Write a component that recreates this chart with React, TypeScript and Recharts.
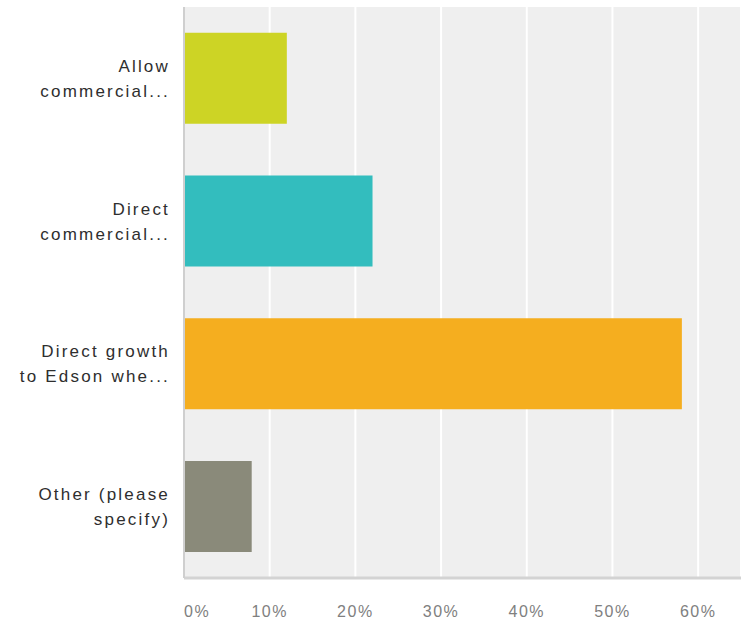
import { Bar, BarChart, CartesianGrid, Cell, XAxis, YAxis } from "recharts"

const categories = [
  "Allow commercial...",
  "Direct commercial...",
  "Direct growth to Edson whe...",
  "Other (please specify)",
]

// how each label wraps on the left side
const labelLines = [
  ["Allow", "commercial..."],
  ["Direct", "commercial..."],
  ["Direct growth", "to Edson whe..."],
  ["Other (please", "specify)"],
]

const shares = [0.12, 0.22, 0.581, 0.079]
const barColors = ["#cdd425", "#33bdbe", "#f5ae1f", "#8a8a7a"]
const xTicks = [0, 0.1, 0.2, 0.3, 0.4, 0.5, 0.6]

const data = categories.map((name, i) => ({ name, lines: labelLines[i], value: shares[i] }))

const font = "'Liberation Sans', Arial, sans-serif"

function CategoryTick({ x, y, index }: any) {
  const lines = labelLines[index] || []
  return (
    <text x={x - 6} y={y} textAnchor="end" fontFamily={font} fontSize={17} fill="#2e2e2e" letterSpacing={2.2}>
      {lines.map((line, i) => (
        <tspan key={i} x={x - 6} dy={i === 0 ? -12.5 * (lines.length - 1) + 6 : 25}>
          {line}
        </tspan>
      ))}
    </text>
  )
}

function PercentTick({ x, y, payload }: any) {
  const first = payload.value === 0
  return (
    <text
      x={x}
      y={y + 31}
      textAnchor={first ? "start" : "middle"}
      fontFamily={font}
      fontSize={16}
      fill="#808080"
      letterSpacing={1.5}
    >
      {Math.round(payload.value * 100) + "%"}
    </text>
  )
}

export default function App() {
  return (
    <div style={{ position: "absolute", left: 0, top: 0, width: 741, height: 620, background: "#fff" }}>
      <BarChart
        width={741}
        height={620}
        data={data}
        layout="vertical"
        margin={{ top: 7, right: 0, left: 0, bottom: 0 }}
        barCategoryGap="18%"
      >
        <CartesianGrid horizontal={false} stroke="#fff" strokeWidth={2} fill="#efefef" />
        <XAxis
          type="number"
          domain={[0, 0.65]}
          ticks={xTicks}
          height={42}
          tick={<PercentTick />}
          tickLine={false}
          axisLine={{ stroke: "#d3d3d3", strokeWidth: 3 }}
        />
        <YAxis
          type="category"
          dataKey="name"
          width={184}
          tick={<CategoryTick />}
          tickLine={false}
          axisLine={{ stroke: "#cfcfcf", strokeWidth: 2 }}
        />
        <Bar dataKey="value" isAnimationActive={false}>
          {data.map((d, i) => (
            <Cell key={d.name} fill={barColors[i]} />
          ))}
        </Bar>
      </BarChart>
    </div>
  )
}
